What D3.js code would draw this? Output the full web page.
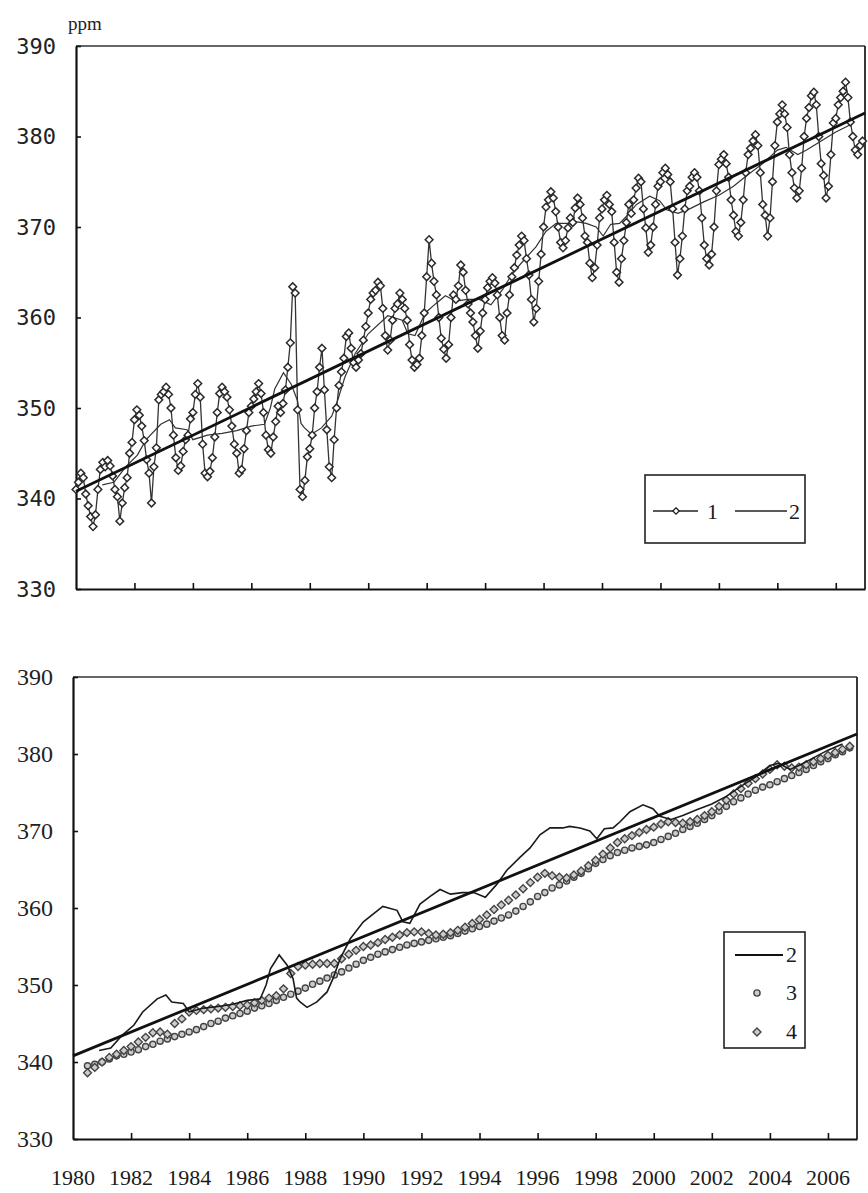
<!DOCTYPE html>
<html><head><meta charset="utf-8">
<script src="https://cdn.jsdelivr.net/npm/d3@7/dist/d3.min.js"></script>
<style>body{margin:0;background:#fff}svg{display:block}</style>
</head><body>
<script>
// ---------- DATA ----------
const yTicks = [330, 340, 350, 360, 370, 380, 390];
const yearTicks = [1982,1984,1986,1988,1990,1992,1994,1996,1998,2000,2002,2004,2006];
const yearLabels = [1980,1982,1984,1986,1988,1990,1992,1994,1996,1998,2000,2002,2004,2006];
const series1Start = 1980; // monthly values, Jan..Dec per row
const series1 = [
 341.0,341.8,342.8,342.3,340.5,339.2,338.0,336.9,338.2,341.0,343.2,344.0,
 343.5,344.2,343.6,342.5,341.0,340.2,337.5,339.5,341.2,342.3,345.0,346.2,
 348.7,349.8,349.2,348.0,346.4,344.3,342.8,339.5,343.5,345.6,350.9,351.5,
 351.8,352.3,351.5,350.0,347.0,344.5,343.1,343.6,345.2,346.5,347.0,348.8,
 349.5,351.5,352.7,351.2,346.0,342.8,342.4,343.0,344.5,346.8,349.5,351.6,
 352.3,351.8,351.2,349.8,348.0,346.0,345.0,342.8,343.2,345.5,347.5,349.5,
 350.2,351.0,351.8,352.7,351.6,349.5,347.0,345.4,345.0,346.8,348.5,350.2,
 349.5,350.5,352.0,354.5,357.2,363.4,362.7,349.8,341.0,340.2,342.0,344.6,
 345.5,347.0,350.0,351.8,354.5,356.6,352.0,347.6,343.5,342.3,346.5,350.0,
 352.5,354.0,355.5,357.9,358.3,356.6,355.0,354.5,355.3,356.0,357.5,359.0,
 360.5,362.0,362.7,363.0,363.9,363.5,361.0,358.0,356.4,357.5,359.7,361.0,
 361.5,362.7,362.0,361.0,359.7,357.0,355.3,354.5,354.8,355.5,358.0,360.5,
 364.5,368.6,366.0,364.0,362.5,360.0,357.7,356.5,355.5,357.0,360.0,362.5,
 362.0,363.5,365.8,365.0,363.0,361.5,360.5,359.5,358.0,356.6,358.5,360.5,
 362.0,363.3,364.0,364.4,363.8,362.5,360.0,358.0,357.5,360.5,362.5,364.5,
 365.5,366.9,368.0,369.0,368.5,366.5,364.7,362.0,359.5,361.0,364.0,367.0,
 370.0,372.2,373.0,373.9,373.2,371.7,370.0,368.3,367.7,368.5,369.9,371.0,
 370.5,372.1,373.2,372.5,371.0,369.0,368.3,366.0,364.4,365.5,368.0,371.0,
 372.0,373.0,373.5,372.5,371.7,368.3,365.0,363.9,366.5,368.5,370.5,372.5,
 371.5,373.0,374.3,375.4,375.0,372.0,369.9,367.2,368.0,370.0,372.5,374.5,
 375.0,376.0,376.5,375.8,375.0,372.0,368.3,364.7,366.5,369.0,372.0,374.0,
 374.5,375.5,376.0,375.5,374.0,371.0,368.0,366.5,365.8,367.0,370.0,374.0,
 376.9,377.5,378.0,377.0,375.5,373.0,371.3,369.5,369.0,370.5,373.0,376.0,
 378.0,378.7,379.5,380.2,379.0,376.0,372.5,371.3,369.0,371.0,375.0,379.0,
 381.6,382.5,383.5,382.5,381.0,378.0,376.0,374.3,373.2,374.0,376.5,380.0,
 382.0,383.2,384.5,384.9,383.5,380.0,377.0,375.7,373.2,374.5,378.0,381.5,
 382.0,383.5,384.3,385.0,386.0,384.3,381.6,380.0,378.5,378.0,379.0,379.5
];
const trend2 = [[1980, 340.8], [2007, 382.6]];
const smooth = [
 [1980.9,341.5],[1981.3,341.8],[1981.7,343.5],[1982.1,344.8],[1982.4,346.5],[1982.9,348.2],
 [1983.2,348.7],[1983.4,347.8],[1983.8,347.6],[1984.0,346.5],[1984.5,347.0],[1985.0,347.2],
 [1985.5,347.5],[1986.0,348.0],[1986.45,348.2],[1986.65,350.0],[1986.8,352.1],[1987.1,353.9],
 [1987.37,352.6],[1987.58,350.8],[1987.7,348.3],[1987.82,347.8],[1988.06,347.1],[1988.4,347.8],
 [1988.75,349.1],[1988.95,350.8],[1989.2,353.4],[1989.55,356.0],[1990.0,358.2],[1990.67,360.2],
 [1991.16,359.7],[1991.36,358.2],[1991.6,358.0],[1991.95,360.5],[1992.3,361.5],[1992.64,362.4],
 [1993.0,361.8],[1993.4,362.0],[1993.8,362.0],[1994.2,361.4],[1994.6,363.1],[1994.94,364.9],
 [1995.4,366.6],[1995.74,367.8],[1996.08,369.5],[1996.43,370.4],[1996.87,370.4],[1997.1,370.6],
 [1997.46,370.4],[1997.8,370.0],[1998.04,369.0],[1998.3,370.3],[1998.6,370.4],[1998.84,371.2],
 [1999.18,372.5],[1999.63,373.4],[1999.97,372.9],[2000.21,371.9],[2000.6,371.5],[2001.0,372.0],
 [2001.5,372.8],[2002.0,373.5],[2002.5,374.5],[2003.0,375.8],[2003.5,377.0],[2004.0,378.5],
 [2004.3,378.8],[2004.7,378.0],[2005.0,378.5],[2005.5,379.5],[2006.0,380.5],[2006.5,381.3]
];
const quarterStart = 1980.5; // series 3 and 4: one value per quarter year
const series3 = [
 339.5,339.7,340.0,340.4,340.8,341.0,341.3,341.6,342.0,342.3,342.7,343.0,343.3,343.6,
 343.9,344.2,344.6,345.0,345.3,345.7,346.0,346.3,346.6,347.0,347.3,347.6,348.0,348.4,
 348.8,349.2,349.6,350.1,350.5,350.9,351.3,351.7,352.2,352.7,353.2,353.6,354.0,354.3,
 354.6,354.9,355.2,355.4,355.6,355.8,356.0,356.2,356.4,356.7,357.0,357.3,357.6,357.9,
 358.3,358.7,359.1,359.6,360.2,360.8,361.5,362.0,362.6,363.0,363.5,364.0,364.5,365.1,
 365.8,366.3,366.8,367.2,367.5,367.8,368.0,368.2,368.5,368.9,369.3,369.7,370.2,370.6,
 371.0,371.5,372.0,372.6,373.2,373.8,374.3,374.8,375.3,375.7,376.0,376.4,376.8,377.2,
 377.6,378.0,378.5,379.0,379.4,379.9,380.3,380.8
];
const series4 = [
 338.6,339.3,340.0,340.6,341.0,341.5,342.0,342.6,343.2,343.8,343.9,343.6,345.0,345.6,
 346.5,346.7,346.8,346.9,347.0,347.1,347.2,347.3,347.4,347.7,348.0,348.3,348.6,349.5,
 351.5,352.4,352.6,352.7,352.8,352.8,352.8,353.4,354.0,354.5,355.0,355.2,355.5,355.9,
 356.2,356.5,356.8,356.9,356.9,356.7,356.5,356.6,356.8,357.1,357.5,358.0,358.5,359.1,
 359.8,360.4,361.0,361.7,362.5,363.3,364.0,364.5,364.2,364.0,363.9,364.3,364.8,365.5,
 366.2,367.0,367.8,368.5,369.0,369.4,369.8,370.2,370.5,370.9,371.2,371.1,371.0,371.2,
 371.5,372.0,372.5,373.2,374.0,374.8,375.5,376.2,376.8,377.4,378.0,378.6,378.4,378.2,
 378.3,378.6,379.0,379.4,379.8,380.2,380.6,381.0
];

// ---------- DRAW ----------
const svg = d3.select("body").append("svg").attr("width", 868).attr("height", 1193);
svg.append("rect").attr("width", 868).attr("height", 1193).attr("fill", "#fff");

const s1 = series1.map((v, i) => [series1Start + i / 12, v]);
const s3 = series3.map((v, i) => [quarterStart + i * 0.25, v]);
const s4 = series4.map((v, i) => [quarterStart + i * 0.25, v]);

function panel(box, yLabelFont, yLabelSize, showYears) {
  const x = d3.scaleLinear().domain([1980, 2007]).range([box.x0, box.x1]);
  const y = d3.scaleLinear().domain([330, 390]).range([box.y1, box.y0]);
  const g = svg.append("g");
  g.append("line").attr("x1", box.x0).attr("x2", box.x1).attr("y1", box.y0).attr("y2", box.y0)
    .attr("stroke", "#333").attr("stroke-width", 1.5);
  g.append("line").attr("x1", box.x1).attr("x2", box.x1).attr("y1", box.y0).attr("y2", box.y1)
    .attr("stroke", "#222").attr("stroke-width", 1.8);
  const ya = g.append("g").attr("transform", `translate(${box.x0},0)`)
    .call(d3.axisLeft(y).tickValues(yTicks).tickSize(-5).tickSizeOuter(0).tickPadding(20).tickFormat(d3.format("d")));
  ya.select(".domain").attr("stroke", "#111").attr("stroke-width", 2.2);
  ya.selectAll(".tick line").attr("stroke", "#111").attr("stroke-width", 1.6);
  ya.selectAll("text").attr("font-family", yLabelFont).attr("font-size", yLabelSize).attr("fill", "#222");
  const xa = g.append("g").attr("transform", `translate(0,${box.y1})`)
    .call(d3.axisBottom(x).tickValues(yearTicks).tickSize(-6).tickSizeOuter(0).tickFormat(""));
  xa.select(".domain").attr("stroke", "#111").attr("stroke-width", 2.2);
  xa.selectAll(".tick line").attr("stroke", "#111").attr("stroke-width", 1.6);
  if (showYears) {
    g.selectAll("text.yr").data(yearLabels).join("text").attr("class", "yr")
      .attr("x", d => x(d)).attr("y", box.y1 + 46).attr("text-anchor", "middle")
      .attr("font-family", "Liberation Serif").attr("font-size", 22).attr("fill", "#1a1a1a")
      .text(d => d);
  }
  return {x, y, g};
}

// Top panel
const topP = panel({x0: 76, x1: 865, y0: 46, y1: 589}, "DejaVu Sans Mono", 22, false);
svg.append("text").attr("x", 68).attr("y", 30).attr("font-family", "Liberation Serif")
  .attr("font-size", 19).attr("fill", "#222").text("ppm");
const lineT = d3.line().x(d => topP.x(d[0])).y(d => topP.y(d[1]));
const diamond = d3.symbol().type(d3.symbolDiamond2).size(38);
topP.g.append("path").attr("d", lineT(smooth)).attr("fill", "none").attr("stroke", "#333").attr("stroke-width", 1.2);
topP.g.append("path").attr("d", lineT(s1)).attr("fill", "none").attr("stroke", "#333").attr("stroke-width", 1.3);
topP.g.selectAll("path.m1").data(s1).join("path").attr("class", "m1")
  .attr("transform", d => `translate(${topP.x(d[0])},${topP.y(d[1])})`)
  .attr("d", diamond).attr("fill", "#fff").attr("stroke", "#2a2a2a").attr("stroke-width", 1.5);
topP.g.append("path").attr("d", lineT(trend2)).attr("fill", "none").attr("stroke", "#111").attr("stroke-width", 2.8);

// Top legend
const lg1 = svg.append("g");
lg1.append("rect").attr("x", 645).attr("y", 475).attr("width", 160).attr("height", 68)
  .attr("fill", "#fff").attr("stroke", "#222").attr("stroke-width", 1.6);
lg1.append("line").attr("x1", 653).attr("x2", 698).attr("y1", 511).attr("y2", 511).attr("stroke", "#222").attr("stroke-width", 1.6);
lg1.append("path").attr("transform", "translate(676,511)").attr("d", d3.symbol().type(d3.symbolDiamond2).size(26))
  .attr("fill", "#fff").attr("stroke", "#222").attr("stroke-width", 1.3);
lg1.append("text").attr("x", 707).attr("y", 519).attr("font-family", "Liberation Serif").attr("font-size", 22).attr("fill", "#1a1a1a").text("1");
lg1.append("line").attr("x1", 735).attr("x2", 787).attr("y1", 511).attr("y2", 511).attr("stroke", "#222").attr("stroke-width", 1.6);
lg1.append("text").attr("x", 789).attr("y", 519).attr("font-family", "Liberation Serif").attr("font-size", 22).attr("fill", "#1a1a1a").text("2");

// Bottom panel
const botP = panel({x0: 73, x1: 857, y0: 677, y1: 1139}, "Liberation Serif", 24, true);
const lineB = d3.line().x(d => botP.x(d[0])).y(d => botP.y(d[1]));
botP.g.selectAll("circle.m3").data(s3).join("circle").attr("class", "m3")
  .attr("cx", d => botP.x(d[0])).attr("cy", d => botP.y(d[1])).attr("r", 3.1)
  .attr("fill", "#ccc").attr("stroke", "#444").attr("stroke-width", 1.4);
botP.g.selectAll("path.m4").data(s4).join("path").attr("class", "m4")
  .attr("transform", d => `translate(${botP.x(d[0])},${botP.y(d[1])})`)
  .attr("d", d3.symbol().type(d3.symbolDiamond2).size(40)).attr("fill", "#ccc").attr("stroke", "#444").attr("stroke-width", 1.4);
botP.g.append("path").attr("d", lineB(smooth)).attr("fill", "none").attr("stroke", "#1a1a1a").attr("stroke-width", 1.6);
botP.g.append("path").attr("d", lineB(trend2)).attr("fill", "none").attr("stroke", "#111").attr("stroke-width", 2.8);

// Bottom legend
const lg2 = svg.append("g");
lg2.append("rect").attr("x", 724).attr("y", 932).attr("width", 81).attr("height", 116)
  .attr("fill", "#fff").attr("stroke", "#222").attr("stroke-width", 1.6);
lg2.append("line").attr("x1", 735).attr("x2", 783).attr("y1", 955).attr("y2", 955).attr("stroke", "#111").attr("stroke-width", 2.2);
lg2.append("text").attr("x", 786).attr("y", 962).attr("font-family", "Liberation Serif").attr("font-size", 22).attr("fill", "#1a1a1a").text("2");
lg2.append("circle").attr("cx", 757).attr("cy", 993).attr("r", 3.1).attr("fill", "#ccc").attr("stroke", "#444").attr("stroke-width", 1.4);
lg2.append("text").attr("x", 786).attr("y", 1000).attr("font-family", "Liberation Serif").attr("font-size", 22).attr("fill", "#1a1a1a").text("3");
lg2.append("path").attr("transform", "translate(757,1032)").attr("d", d3.symbol().type(d3.symbolDiamond2).size(40))
  .attr("fill", "#ccc").attr("stroke", "#444").attr("stroke-width", 1.4);
lg2.append("text").attr("x", 786).attr("y", 1039).attr("font-family", "Liberation Serif").attr("font-size", 22).attr("fill", "#1a1a1a").text("4");
</script>
</body></html>
